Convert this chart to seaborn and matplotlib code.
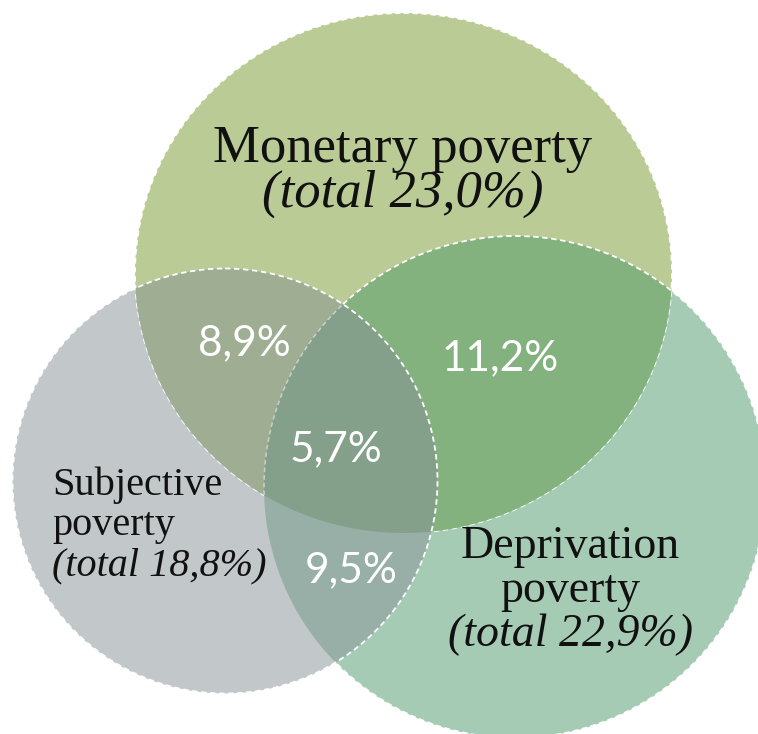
import numpy as np
import matplotlib
matplotlib.use("Agg")
import matplotlib.pyplot as plt
from matplotlib.patches import Ellipse, Polygon
import seaborn as sns

# Poverty measures, their titles and totals (%)
set_keys = ["M", "S", "D"]
set_titles = ["Monetary poverty", "Subjective\npoverty", "Deprivation\npoverty"]
set_totals = [23.0, 18.8, 22.9]

# Share of the population in each overlap (%)
overlap_keys = ["MS", "MD", "MSD", "SD"]
overlap_values = [8.9, 11.2, 5.7, 9.5]


def pct(v):
    return f"{v:.1f}".replace(".", ",") + "%"


sns.set_theme(style="white")

W, H = 758, 734
fig = plt.figure(figsize=(W / 100, H / 100), dpi=100)
ax = fig.add_axes([0, 0, 1, 1])
ax.set_xlim(0, W)
ax.set_ylim(H, 0)
ax.set_aspect("equal")
ax.axis("off")

# Ellipse geometry (centre, width, height) in canvas units
geom = {
    "M": ((403.5, 273.0), 537.0, 520.0),
    "S": ((225.0, 481.0), 425.0, 425.0),
    "D": ((515.0, 487.0), 502.0, 502.0),
}

fills = {
    "M": "#BACB95",
    "S": "#C2C7C9",
    "D": "#A6CBB5",
    "MS": "#9FAD93",
    "MD": "#84B27F",
    "SD": "#98AFA7",
    "MSD": "#84A08A",
}


def shape(key, **kw):
    (cx, cy), w, h = geom[key]
    return Ellipse((cx, cy), w, h, transform=ax.transData, **kw)


def inside(key, x, y):
    (cx, cy), w, h = geom[key]
    return ((x - cx) / (w / 2)) ** 2 + ((y - cy) / (h / 2)) ** 2 <= 1.0


def rim(key, n=4000):
    (cx, cy), w, h = geom[key]
    t = np.linspace(0, 2 * np.pi, n)
    return cx + w / 2 * np.cos(t), cy + h / 2 * np.sin(t)


# Single-set areas
for k in set_keys:
    ax.add_patch(shape(k, facecolor=fills[k], edgecolor="none", zorder=1))

# White dashed rim of the monetary set, under the other sets
ax.add_patch(shape("M", facecolor="none", edgecolor="white", lw=1.3,
                   linestyle=(0, (3, 2)), zorder=1.5))

# Pairwise overlaps
for top, clip, key in [("S", "M", "MS"), ("D", "M", "MD"), ("D", "S", "SD")]:
    p = shape(top, facecolor=fills[key], edgecolor="none", zorder=2)
    ax.add_patch(p)
    p.set_clip_path(shape(clip))

# Triple overlap: rim points of each set lying inside the other two
xs, ys = [], []
for k in set_keys:
    x, y = rim(k)
    m = np.ones_like(x, dtype=bool)
    for o in set_keys:
        if o != k:
            m &= inside(o, x, y)
    xs.append(x[m])
    ys.append(y[m])
xs = np.concatenate(xs)
ys = np.concatenate(ys)
order = np.argsort(np.arctan2(ys - ys.mean(), xs - xs.mean()))
ax.add_patch(Polygon(np.column_stack([xs[order], ys[order]]), closed=True,
                     facecolor=fills["MSD"], edgecolor="none", zorder=3))

# Dashed outlines
ax.add_patch(shape("S", facecolor="none", edgecolor="white", lw=1.3,
                   linestyle=(0, (3, 2)), zorder=4))
dx, dy = rim("D")
in_s = inside("S", dx, dy)
in_m = inside("M", dx, dy)
bright = np.where(~in_s, 1.0, np.nan)
faint = np.where(in_s & in_m, 1.0, np.nan)
ax.plot(dx * bright, dy * bright, color="white", lw=1.3,
        linestyle=(0, (3, 2)), zorder=4)
ax.plot(dx * faint, dy * faint, color="#D8DCD6", lw=1.1,
        linestyle=(0, (3, 2)), alpha=0.8, zorder=4)

# Set titles
serif = "Liberation Serif"
ink = "#111111"
ax.text(403, 162, set_titles[0], ha="center", va="baseline",
        fontsize=38, family=serif, color=ink, zorder=5)
ax.text(403, 207, f"(total {pct(set_totals[0])})", ha="center", va="baseline",
        fontsize=38, family=serif, style="italic", color=ink, zorder=5)

s_lines = set_titles[1].split("\n")
for line, yb in zip(s_lines, [495, 535]):
    ax.text(52, yb, line, ha="left", va="baseline", fontsize=29,
            family=serif, color=ink, zorder=5)
ax.text(52, 575, f"(total {pct(set_totals[1])})", ha="left", va="baseline",
        fontsize=29, family=serif, style="italic", color=ink, zorder=5)

d_lines = set_titles[2].split("\n")
for line, yb in zip(d_lines, [558, 602]):
    ax.text(570, yb, line, ha="center", va="baseline", fontsize=33,
            family=serif, color=ink, zorder=5)
ax.text(570, 646, f"(total {pct(set_totals[2])})", ha="center", va="baseline",
        fontsize=33, family=serif, style="italic", color=ink, zorder=5)

# Overlap values
label_pos = {"MS": (244, 355), "MD": (500, 370), "MSD": (336, 461), "SD": (351, 582)}
for k, v in zip(overlap_keys, overlap_values):
    x, y = label_pos[k]
    ax.text(x, y, pct(v), ha="center", va="baseline", fontsize=30.5,
            family="Lato", color="white", zorder=5)

fig.savefig("out.png", dpi=100, facecolor="white")
